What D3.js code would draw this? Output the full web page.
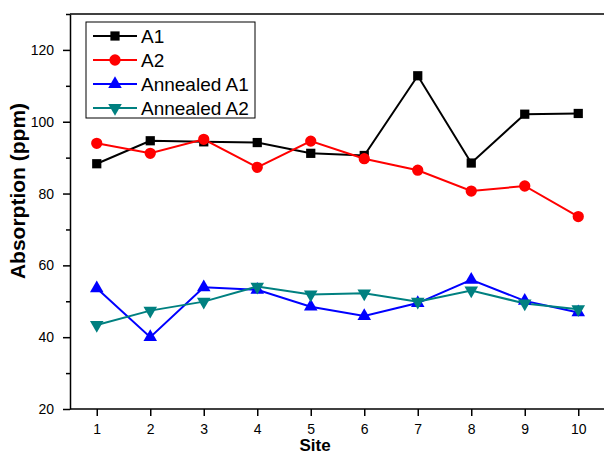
<!DOCTYPE html>
<html>
<head>
<meta charset="utf-8">
<script src="https://cdn.jsdelivr.net/npm/d3@7"></script>
<style>
body { margin: 0; background: #fff; }
svg { font-family: "Liberation Sans", Arial, sans-serif; }
</style>
</head>
<body>
<svg id="chart" width="604" height="456"></svg>
<script>
// data
var sites = [1, 2, 3, 4, 5, 6, 7, 8, 9, 10];
var a1 = [88.3, 94.7, 94.4, 94.2, 91.2, 90.6, 112.8, 88.5, 102.1, 102.3];
var a2 = [94.0, 91.2, 95.1, 87.3, 94.6, 89.7, 86.5, 80.7, 82.1, 73.6];
var annealedA1 = [53.6, 40.0, 53.9, 53.2, 48.5, 45.9, 49.5, 56.0, 50.1, 46.9];
var annealedA2 = [43.4, 47.4, 49.9, 54.1, 51.9, 52.2, 49.9, 53.0, 49.4, 47.8];
var yTicks = [20, 40, 60, 80, 100, 120];
var yMinor = [30, 50, 70, 90, 110, 130];

var series = [
    {name: "A1", values: a1, color: "#000000", sym: d3.symbolSquare, size: 85, rot: 0},
    {name: "A2", values: a2, color: "#ff0000", sym: d3.symbolCircle, size: 100, rot: 0},
    {name: "Annealed A1", values: annealedA1, color: "#0000ff", sym: d3.symbolTriangle, size: 80, rot: 0},
    {name: "Annealed A2", values: annealedA2, color: "#008080", sym: d3.symbolTriangle, size: 80, rot: 180}
];

var svg = d3.select("#chart");
var pl = 70, pt = 14, pr = 605, pb = 409;

var x = d3.scaleLinear().domain([0.5, 10.5]).range([pl, pr]);
var y = d3.scaleLinear().domain([20, 130]).range([pb, pt]);

// frame top line
svg.append("line")
    .attr("x1", pl).attr("x2", 604)
    .attr("y1", pt).attr("y2", pt)
    .attr("stroke", "#000").attr("stroke-width", 1.5);

// x axis
var xAxis = svg.append("g")
    .attr("transform", "translate(0," + pb + ")")
    .call(d3.axisBottom(x).tickValues(sites).tickSize(7).tickPadding(8).tickSizeOuter(0));
xAxis.attr("font-size", 14).attr("font-family", null);
xAxis.select(".domain").attr("stroke-width", 1.5).attr("d", "M" + pl + ",0H604");
xAxis.selectAll(".tick line").attr("stroke-width", 1.5);
xAxis.selectAll("text").attr("fill", "#000");

// y axis
var yAxis = svg.append("g")
    .attr("transform", "translate(" + pl + ",0)")
    .call(d3.axisLeft(y).tickValues(yTicks).tickSize(7).tickPadding(9).tickSizeOuter(0));
yAxis.attr("font-size", 14).attr("font-family", null);
yAxis.select(".domain").attr("stroke-width", 1.5);
yAxis.selectAll(".tick line").attr("stroke-width", 1.5);
yAxis.selectAll("text").attr("fill", "#000");

svg.append("g")
    .attr("transform", "translate(" + pl + ",0)")
    .call(d3.axisLeft(y).tickValues(yMinor).tickSize(4).tickFormat(""))
    .call(function(g) { g.select(".domain").remove(); g.selectAll("line").attr("stroke-width", 1.5); });

// axis titles
svg.append("text")
    .attr("x", 315).attr("y", 451)
    .attr("text-anchor", "middle")
    .attr("font-size", 17).attr("font-weight", "bold")
    .text("Site");

svg.append("text")
    .attr("transform", "translate(25,191) rotate(-90)")
    .attr("text-anchor", "middle")
    .attr("font-size", 21).attr("font-weight", "bold")
    .text("Absorption (ppm)");

// series
var line = d3.line()
    .x(function(d, i) { return x(sites[i]); })
    .y(function(d) { return y(d); });

series.forEach(function(s) {
    svg.append("path")
        .datum(s.values)
        .attr("fill", "none")
        .attr("stroke", s.color)
        .attr("stroke-width", 2)
        .attr("d", line);
});

series.forEach(function(s) {
    var sym = d3.symbol().type(s.sym).size(s.size);
    svg.append("g").selectAll("path")
        .data(s.values)
        .join("path")
        .attr("d", sym)
        .attr("fill", s.color)
        .attr("transform", function(d, i) {
            return "translate(" + x(sites[i]) + "," + y(d) + ") rotate(" + s.rot + ")";
        });
});

// legend
var lg = svg.append("g").attr("transform", "translate(86,22)");
lg.append("rect")
    .attr("width", 169).attr("height", 96)
    .attr("fill", "#fff").attr("stroke", "#000").attr("stroke-width", 1);

series.forEach(function(s, i) {
    var cy = 14 + i * 24;
    var row = lg.append("g").attr("transform", "translate(0," + cy + ")");
    row.append("line")
        .attr("x1", 7).attr("x2", 51)
        .attr("stroke", s.color).attr("stroke-width", 2);
    row.append("path")
        .attr("d", d3.symbol().type(s.sym).size(s.size)())
        .attr("fill", s.color)
        .attr("transform", "translate(29,0) rotate(" + s.rot + ")");
    row.append("text")
        .attr("x", 55).attr("y", 7)
        .attr("font-size", 19)
        .text(s.name);
});
</script>
</body>
</html>
